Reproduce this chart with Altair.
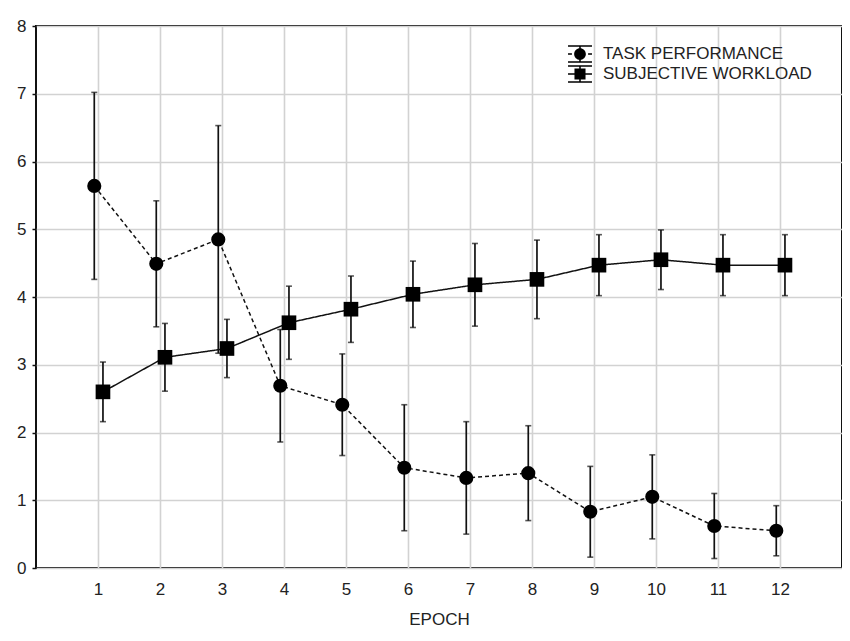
import altair as alt
import pandas as pd

epochs = list(range(1, 13))
series = ["TASK PERFORMANCE", "SUBJECTIVE WORKLOAD"]
task_mean = [5.64, 4.49, 4.85, 2.69, 2.41, 1.48, 1.33, 1.40, 0.83, 1.05, 0.62, 0.55]
task_err = [1.38, 0.93, 1.68, 0.83, 0.75, 0.93, 0.83, 0.70, 0.67, 0.62, 0.48, 0.37]
work_mean = [2.60, 3.11, 3.24, 3.62, 3.82, 4.04, 4.18, 4.26, 4.47, 4.55, 4.47, 4.47]
work_err = [0.44, 0.50, 0.43, 0.54, 0.49, 0.49, 0.61, 0.58, 0.45, 0.44, 0.45, 0.45]
x_shift = [-0.06, 0.08]  # small horizontal dodge of the two series

rows = []
for s, means, errs, dx in [(series[0], task_mean, task_err, x_shift[0]),
                           (series[1], work_mean, work_err, x_shift[1])]:
    for e, m, r in zip(epochs, means, errs):
        rows.append({"epoch": e, "xpos": e + dx, "series": s, "mean": m,
                     "lo": m - r, "hi": m + r})
df = pd.DataFrame(rows)

# legend glyphs (error bar + marker + line style), drawn as filled shapes
caps = ("M-1.41,-1.03H1.41V-0.85H-1.41Z M-1.41,0.85H1.41V1.03H-1.41Z "
        "M-0.09,-0.94H0.09V0.94H-0.09Z ")
task_sym = (caps + "M-1.41,-0.09H-0.95V0.09H-1.41Z M0.95,-0.09H1.41V0.09H0.95Z "
            "M-0.69,0A0.69,0.69 0 1,1 0.69,0A0.69,0.69 0 1,1 -0.69,0Z")
work_sym = (caps + "M-1.41,-0.09H1.41V0.09H-1.41Z M-0.65,-0.65H0.65V0.65H-0.65Z")

xscale = alt.Scale(domain=[0, 13], nice=False, zero=False)
yscale = alt.Scale(domain=[0, 8], nice=False)

X = alt.X("xpos:Q", scale=xscale,
          axis=alt.Axis(values=epochs, title="EPOCH", tickSize=0, labelPadding=13,
                        titlePadding=14, grid=True, domain=False, labelFlush=False,
                        format="d"))
Y = alt.Y("mean:Q", scale=yscale,
          axis=alt.Axis(values=list(range(0, 9)), title=None, tickSize=4,
                        tickColor="#111", tickWidth=1.5, labelPadding=6,
                        grid=True, domain=False, format="d"))

base = alt.Chart(df)

bars = base.mark_rule(color="#111", strokeWidth=1.7).encode(
    x=X, y=alt.Y("lo:Q", scale=yscale), y2="hi:Q")
cap_hi = base.mark_tick(color="#111", orient="horizontal", size=6, thickness=1.6).encode(
    x=X, y=alt.Y("hi:Q", scale=yscale))
cap_lo = base.mark_tick(color="#111", orient="horizontal", size=6, thickness=1.6).encode(
    x=X, y=alt.Y("lo:Q", scale=yscale))

lines = base.mark_line(color="#111", strokeWidth=1.5).encode(
    x=X, y=Y,
    strokeDash=alt.StrokeDash("series:N", scale=alt.Scale(domain=series, range=[[4, 3], [1, 0]]),
                              legend=None),
    detail="series:N")

points = base.mark_point(filled=True, opacity=1, color="#000").encode(
    x=X, y=Y,
    shape=alt.Shape("series:N", scale=alt.Scale(domain=series, range=["circle", "square"]),
                    legend=None),
    size=alt.Size("series:N", scale=alt.Scale(domain=series, range=[200, 215]), legend=None))

legend_layer = base.mark_point(filled=True, opacity=0, color="#000").encode(
    x=X, y=Y,
    shape=alt.Shape("series:N", scale=alt.Scale(domain=series, range=[task_sym, work_sym]),
                    legend=alt.Legend(title=None, orient="none", legendX=535.5, legendY=19.5,
                                      symbolSize=289, symbolStrokeWidth=0,
                                      symbolFillColor="#000",
                                      symbolOpacity=1, labelFontSize=17,
                                      labelFont="Liberation Sans", labelColor="#222",
                                      labelLimit=400,
                                      padding=0, rowPadding=1, labelOffset=14.5)))

chart = alt.layer(bars, cap_hi, cap_lo, lines, points, legend_layer).resolve_scale(
    shape="independent"
).properties(
    width=806, height=542,
    autosize=alt.AutoSizeParams(type="none"),
    padding={"left": 28, "top": 18, "right": 0, "bottom": 62},
    background="white",
).configure_view(
    stroke="#111", strokeWidth=2
).configure_axis(
    gridColor="#d2d2d2", gridWidth=1.6,
    labelFont="Liberation Sans", labelFontSize=17, labelColor="#222",
    titleFont="Liberation Sans", titleFontSize=17, titleFontWeight="normal", titleColor="#222",
)

chart.save("out.html", embed_options={"renderer": "svg", "actions": False})
